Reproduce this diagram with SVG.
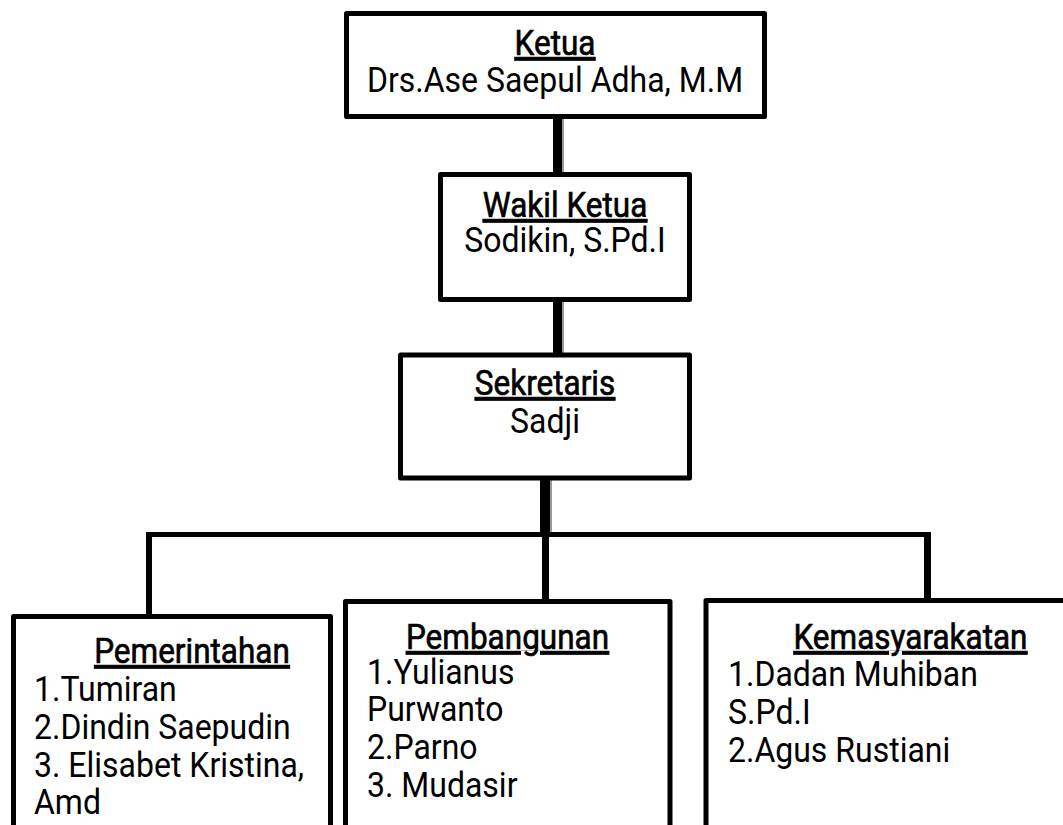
<svg xmlns="http://www.w3.org/2000/svg" width="1063" height="825" viewBox="0 0 1063 825">
<style>
.box{fill:#fff;stroke:#000;stroke-width:5;stroke-linejoin:round}
.t{font-family:Roboto,"Liberation Sans",sans-serif;font-size:32px;fill:#000}
.h{font-size:31.5px;text-decoration:underline;stroke:#000;stroke-width:0.6px}
.c{text-anchor:middle}
.wire{fill:#000}
.shade{fill:#9a9a9a}
</style>
<rect width="1063" height="825" fill="#fff"/>
<g id="connectors">
<rect class="shade" x="562" y="116" width="2" height="58"/>
<rect class="wire" x="553" y="116" width="9" height="58"/>
<rect class="shade" x="562" y="300" width="2" height="55"/>
<rect class="wire" x="553" y="300" width="9" height="55"/>
<rect class="shade" x="550" y="478" width="2" height="56"/>
<rect class="wire" x="540" y="478" width="10" height="56"/>
<rect class="wire" x="146" y="532" width="785" height="5"/>
<rect class="wire" x="146" y="532" width="6" height="85"/>
<rect class="wire" x="542" y="532" width="7" height="70"/>
<rect class="wire" x="924" y="532" width="7" height="69"/>
</g>
<g id="ketua">
<rect class="box" x="346.5" y="13.5" width="418" height="103"/>
<text class="t h c" transform="translate(555 55) scale(1 1.1)">Ketua</text>
<text class="t c" transform="translate(555 92) scale(1 1.1)">Drs.Ase Saepul Adha, M.M</text>
</g>
<g id="wakil">
<rect class="box" x="440.5" y="174.5" width="249" height="125"/>
<text class="t h c" transform="translate(565 217) scale(1 1.1)">Wakil Ketua</text>
<text class="t c" transform="translate(565 252) scale(1 1.1)">Sodikin, S.Pd.I</text>
</g>
<g id="sekretaris">
<rect class="box" x="400.5" y="355" width="289" height="123"/>
<text class="t h c" transform="translate(545 395) scale(1 1.1)">Sekretaris</text>
<text class="t c" transform="translate(545 433) scale(1 1.1)">Sadji</text>
</g>
<g id="pemerintahan">
<rect class="box" x="13.5" y="616.5" width="317" height="230"/>
<text class="t h c" transform="translate(192 663) scale(1 1.1)">Pemerintahan</text>
<text class="t" transform="translate(34 701) scale(1 1.1)">1.Tumiran</text>
<text class="t" transform="translate(34 739) scale(1 1.1)">2.Dindin Saepudin</text>
<text class="t" transform="translate(34 777) scale(1 1.1)">3. Elisabet Kristina,</text>
<text class="t" transform="translate(34 814) scale(1 1.1)">Amd</text>
</g>
<g id="pembangunan">
<rect class="box" x="345.5" y="601.5" width="324.5" height="245"/>
<text class="t h c" transform="translate(507.5 649) scale(1 1.1)">Pembangunan</text>
<text class="t" transform="translate(367 684) scale(1 1.1)">1.Yulianus</text>
<text class="t" transform="translate(367 721) scale(1 1.1)">Purwanto</text>
<text class="t" transform="translate(367 759) scale(1 1.1)">2.Parno</text>
<text class="t" transform="translate(367 797) scale(1 1.1)">3. Mudasir</text>
</g>
<g id="kemasyarakatan">
<rect class="box" x="706" y="600.5" width="370" height="246"/>
<text class="t h c" transform="translate(910.5 649) scale(1 1.1)">Kemasyarakatan</text>
<text class="t" transform="translate(728 686) scale(1 1.1)">1.Dadan Muhiban</text>
<text class="t" transform="translate(728 724) scale(1 1.1)">S.Pd.I</text>
<text class="t" transform="translate(728 762) scale(1 1.1)">2.Agus Rustiani</text>
</g>
</svg>
